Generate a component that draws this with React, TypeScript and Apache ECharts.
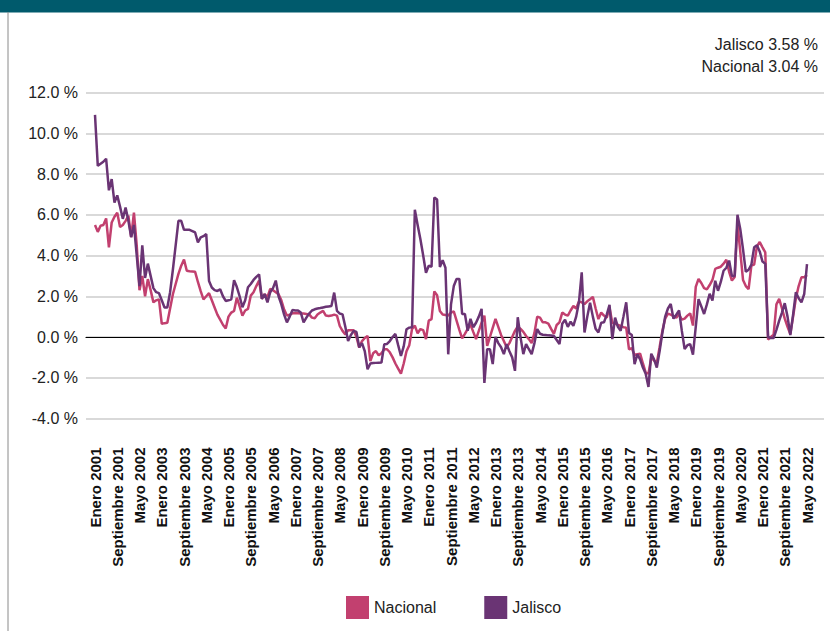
import React, { useEffect, useRef } from "react";
import * as echarts from "echarts";

// Month names used for the category labels (Spanish)
const MONTHS = [
  "Enero", "Febrero", "Marzo", "Abril", "Mayo", "Junio",
  "Julio", "Agosto", "Septiembre", "Octubre", "Noviembre", "Diciembre",
];
const START_YEAR = 2001;
const POINTS = 257; // Enero 2001 .. Mayo 2022

// Annual inflation, Jalisco (%), monthly
const jalisco = [
  // 2001
  10.9, 8.4, 8.5, 8.6, 8.75, 7.2, 7.75, 6.6, 6.95, 6.4, 5.8, 6.35,
  // 2002
  5.7, 4.9, 5.5, 4.0, 2.5, 4.5, 2.9, 3.6, 3.0, 2.4, 2.2, 2.15,
  // 2003
  1.8, 1.45, 1.45, 2.2, 3.3, 4.5, 5.7, 5.7, 5.26, 5.26, 5.26, 5.2,
  // 2004
  5.13, 4.64, 4.89, 4.95, 5.05, 2.75, 2.43, 2.3, 2.26, 2.34, 2.0, 1.77,
  // 2005
  1.8, 1.85, 2.79, 2.45, 2.0, 1.46, 1.8, 2.44, 2.6, 2.8, 2.95, 3.07,
  // 2006
  1.87, 2.1, 1.7, 2.2, 2.4, 2.77, 2.0, 1.6, 1.1, 0.72, 1.0, 1.33,
  // 2007
  1.3, 1.3, 1.2, 0.72, 0.95, 1.15, 1.3, 1.36, 1.4, 1.42, 1.45, 1.48,
  // 2008
  1.5, 1.52, 2.18, 1.28, 1.15, 1.11, 0.5, -0.2, 0.1, 0.3, 0.25, -0.5,
  // 2009
  -0.3, -0.7, -1.58, -1.3, -1.28, -1.27, -1.26, -1.25, -0.36, -0.34, -0.2, 0.0,
  // 2010
  0.15, -0.4, -0.93, -0.46, 0.38, 0.46, 0.48, 6.25, 5.5, 4.8, 4.0, 3.15,
  // 2011
  3.5, 3.45, 6.85, 6.75, 3.44, 3.77, 3.4, -0.85, 1.6, 2.5, 2.85, 2.85,
  // 2012
  1.13, 1.13, 0.31, 0.89, 0.48, 0.7, 1.0, 1.38, -2.25, -0.6, -0.6, -1.33,
  // 2013
  0.0, -0.3, -0.5, -0.84, -0.35, -0.7, -1.0, -1.66, 0.97, -0.02, -0.84, -0.35,
  // 2014
  -0.6, -0.84, -0.3, 0.39, 0.16, 0.11, 0.1, 0.08, 0.07, 0.05, -0.15, -0.35,
  // 2015
  0.65, 0.85, 0.5, 0.75, 0.55, 1.0, 1.7, 3.17, 0.22, 1.0, 1.68, 1.0,
  // 2016
  0.4, 0.22, 0.7, 0.72, 1.1, 1.58, -0.1, 0.95, 0.5, 0.31, 1.0, 1.7,
  // 2017
  0.2, 0.1, -1.33, -0.85, -1.1, -1.5, -1.8, -2.45, -0.82, -1.1, -1.5, -0.7,
  // 2018
  0.2, 1.0, 1.4, 1.62, 0.9, 1.1, 1.3, 0.3, -0.59, -0.4, -0.35, -0.87,
  // 2019
  0.5, 1.86, 1.5, 1.13, 1.6, 2.12, 1.79, 2.76, 2.27, 2.7, 3.25, 3.4,
  // 2020
  3.75, 3.0, 3.0, 6.0, 5.3, 4.3, 3.2, 3.3, 3.55, 4.4, 4.5, 4.2,
  // 2021
  3.7, 3.6, 0.0, -0.05, -0.05, 0.35, 0.8, 1.2, 1.66, 1.0, 0.1, 1.1,
  // 2022
  2.2, 1.9, 1.7, 2.11, 3.58,
];

// Annual inflation, Nacional (%), monthly
const nacional = [
  // 2001
  5.5, 5.16, 5.46, 5.5, 5.82, 4.4, 5.62, 5.9, 6.1, 5.4, 5.5, 5.7,
  // 2002
  5.95, 4.9, 6.1, 4.5, 2.3, 3.0, 2.0, 2.84, 2.3, 1.7, 1.8, 1.85,
  // 2003
  0.65, 0.68, 0.7, 1.4, 2.1, 2.6, 3.1, 3.5, 3.8, 3.25, 3.23, 3.22,
  // 2004
  3.2, 2.7, 2.25, 1.85, 2.0, 2.15, 1.8, 1.45, 1.1, 0.85, 0.6, 0.42,
  // 2005
  1.0, 1.2, 1.28, 1.93, 1.5, 1.05, 1.3, 1.38, 2.03, 2.2, 2.5, 2.77,
  // 2006
  1.87, 2.1, 1.95, 2.36, 2.3, 2.2, 2.1, 1.8, 1.35, 1.05, 1.1, 1.16,
  // 2007
  1.16, 1.16, 1.15, 1.15, 1.13, 1.11, 0.95, 0.92, 1.1, 1.2, 1.28, 1.05,
  // 2008
  1.03, 1.05, 1.1, 1.05, 0.54, 0.3, 0.13, 0.33, 0.33, 0.33, 0.0, -0.52,
  // 2009
  -0.2, -0.05, 0.05, -1.18, -0.8, -0.69, -0.9, -0.8, -0.6, -0.6, -0.75, -1.0,
  // 2010
  -1.3, -1.55, -1.8, -1.3, -0.7, -0.4, 0.4, 0.56, 0.18, 0.39, 0.34, -0.1,
  // 2011
  0.8, 0.88, 2.24, 2.05, 1.28, 1.1, 1.08, 1.05, 1.2, 1.26, 0.8, 0.35,
  // 2012
  -0.07, 0.15, 0.4, 0.61, 0.25, -0.1, 0.3, 0.7, 1.05, -0.43, 0.0, 0.45,
  // 2013
  0.89, 0.5, 0.1, -0.2, -0.5, -0.3, 0.0, 0.3, 0.52, 0.4, 0.25, 0.05,
  // 2014
  -0.1, -0.3, 0.2, 1.0, 0.95, 0.72, 0.72, 0.66, 0.4, 0.15, 0.59, 0.72,
  // 2015
  1.2, 1.1, 1.05, 1.3, 1.52, 1.4, 1.75, 1.7, 1.62, 1.75, 1.85, 1.97,
  // 2016
  1.4, 0.88, 1.2, 1.05, 0.95, 1.44, 0.7, 0.66, 0.6, 0.54, 0.48, 0.46,
  // 2017
  -0.6, -0.55, -0.88, -0.84, -0.82, -1.3, -1.75, -1.8, -1.02, -1.15, -1.26, -0.5,
  // 2018
  0.3, 0.9, 1.15, 1.1, 1.03, 0.95, 1.13, 0.85, 0.9, 1.05, 1.16, 0.56,
  // 2019
  2.46, 2.85, 2.65, 2.4, 2.34, 2.55, 2.8, 3.34, 3.4, 3.45, 3.6, 3.79,
  // 2020
  3.2, 2.77, 2.95, 5.56, 4.2, 2.8, 2.5, 2.35, 3.5, 3.55, 4.45, 4.66,
  // 2021
  4.4, 4.15, -0.12, 0.0, 0.11, 1.6, 1.87, 1.4, 0.9, 0.5, 0.15, 1.0,
  // 2022
  1.9, 2.5, 2.93, 2.93, 3.04,
];

const yTicks = { min: -4, max: 12, interval: 2 };
const annotations = ["Jalisco 3.58 %", "Nacional 3.04 %"];

const categories: string[] = [];
for (let i = 0; i < POINTS; i++) {
  categories.push(MONTHS[i % 12] + " " + (START_YEAR + Math.floor(i / 12)));
}

const FONT = "'Liberation Sans', Arial, Helvetica, sans-serif";
const C_NAC = "#c2406f";
const C_JAL = "#6a3474";

export default function App() {
  const ref = useRef<HTMLDivElement>(null);
  useEffect(() => {
    if (!ref.current) return;
    const chart = echarts.init(ref.current, undefined, { renderer: "svg" });
    const top = 92.5;
    const height = 326;
    chart.setOption({
      animation: false,
      backgroundColor: "#ffffff",
      textStyle: { fontFamily: FONT },
      grid: [
        { left: 86, right: 6, top, height },
        { left: 95, right: 23, top, height },
      ],
      xAxis: [
        {
          gridIndex: 0,
          type: "value",
          min: 0,
          max: 1,
          axisLine: { show: true, onZero: true, lineStyle: { color: "#000", width: 1.2 } },
          axisTick: { show: false },
          axisLabel: { show: false },
          splitLine: { show: false },
        },
        {
          gridIndex: 1,
          type: "category",
          boundaryGap: false,
          data: categories,
          axisLine: { show: false, onZero: false },
          axisTick: { show: false },
          axisLabel: {
            interval: 7,
            rotate: 90,
            margin: 29,
            color: "#111",
            fontFamily: FONT,
            fontSize: 15,
            fontWeight: "bold",
          },
          splitLine: { show: false },
        },
      ],
      yAxis: [
        {
          gridIndex: 0,
          type: "value",
          min: yTicks.min,
          max: yTicks.max,
          interval: yTicks.interval,
          axisLine: { show: false },
          axisTick: { show: false },
          axisLabel: {
            margin: 8,
            color: "#222",
            fontFamily: FONT,
            fontSize: 16,
            formatter: (v: number) => v.toFixed(1) + " %",
          },
          splitLine: { show: true, lineStyle: { color: "#cccccc", width: 1.5 } },
        },
        {
          gridIndex: 1,
          type: "value",
          min: yTicks.min,
          max: yTicks.max,
          interval: yTicks.interval,
          show: false,
          splitLine: { show: false },
        },
      ],
      legend: {
        data: ["Nacional", "Jalisco"],
        left: 341,
        top: 591,
        icon: "rect",
        itemWidth: 23,
        itemHeight: 23,
        itemGap: 48,
        textStyle: { fontFamily: FONT, fontSize: 16, color: "#222" },
      },
      graphic: [
        {
          type: "rect",
          shape: { x: 0, y: 0, width: 830, height: 12.5 },
          style: { fill: "#005a6c" },
          silent: true,
        },
        {
          type: "line",
          shape: { x1: 8, y1: 12, x2: 8, y2: 631 },
          style: { stroke: "#8a8a8a", lineWidth: 1 },
          silent: true,
        },
        {
          type: "text",
          x: 818,
          y: 44,
          style: {
            text: annotations[0],
            fontFamily: FONT,
            fontSize: 16,
            fill: "#222",
            align: "right",
            verticalAlign: "middle",
          },
        },
        {
          type: "text",
          x: 818,
          y: 66,
          style: {
            text: annotations[1],
            fontFamily: FONT,
            fontSize: 16,
            fill: "#222",
            align: "right",
            verticalAlign: "middle",
          },
        },
      ],
      series: [
        {
          name: "Nacional",
          type: "line",
          xAxisIndex: 1,
          yAxisIndex: 1,
          data: nacional,
          showSymbol: false,
          symbol: "none",
          lineStyle: { color: C_NAC, width: 2.5 },
          itemStyle: { color: C_NAC },
        },
        {
          name: "Jalisco",
          type: "line",
          xAxisIndex: 1,
          yAxisIndex: 1,
          data: jalisco,
          showSymbol: false,
          symbol: "none",
          lineStyle: { color: C_JAL, width: 2.5 },
          itemStyle: { color: C_JAL },
        },
      ],
    });
    return () => chart.dispose();
  }, []);
  return (
    <div
      ref={ref}
      style={{ position: "absolute", left: 0, top: 0, width: 830, height: 631 }}
    />
  );
}
